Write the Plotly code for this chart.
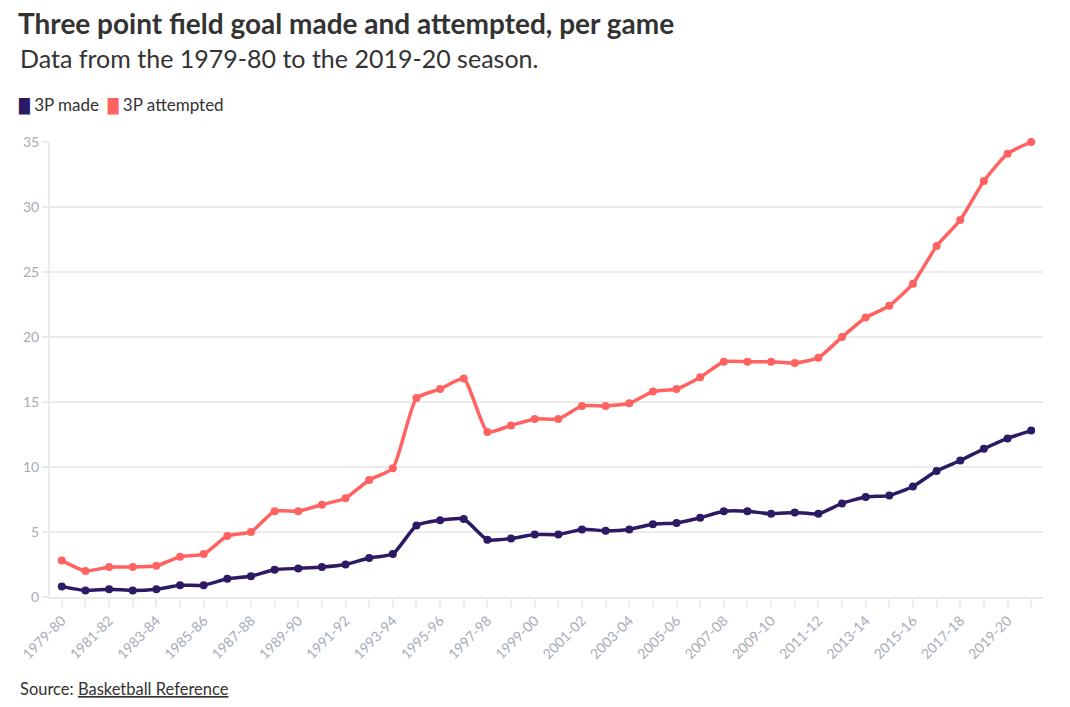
import plotly.graph_objects as go

# Seasons 1979-80 .. 2020-21 (42 seasons)
seasons = [f"{y}-{str(y + 1)[-2:]}" for y in range(1979, 2021)]

# 3-point field goals made per game
made = [0.8, 0.5, 0.6, 0.5, 0.6, 0.9, 0.9, 1.4, 1.6, 2.1,
        2.2, 2.3, 2.5, 3.0, 3.3, 5.5, 5.9, 6.0, 4.4, 4.5,
        4.8, 4.8, 5.2, 5.1, 5.2, 5.6, 5.7, 6.1, 6.6, 6.6,
        6.4, 6.5, 6.4, 7.2, 7.7, 7.8, 8.5, 9.7, 10.5, 11.4,
        12.2, 12.8]

# 3-point field goals attempted per game
attempted = [2.8, 2.0, 2.3, 2.3, 2.4, 3.1, 3.3, 4.7, 5.0, 6.6,
             6.6, 7.1, 7.6, 9.0, 9.9, 15.3, 16.0, 16.8, 12.7, 13.2,
             13.7, 13.7, 14.7, 14.7, 14.9, 15.8, 16.0, 16.9, 18.1, 18.1,
             18.1, 18.0, 18.4, 20.0, 21.5, 22.4, 24.1, 27.0, 29.0, 32.0,
             34.1, 35.0]

series_names = ["3P made", "3P attempted"]
y_ticks = [0, 5, 10, 15, 20, 25, 30, 35]

PURPLE = "#2c1a64"
RED = "#ff6361"
GRID = "#ebebeb"
TICK_TXT = "#a6acb8"
TXT = "#333333"
FONT = "Lato"

fig = go.Figure()

for name, vals, col in zip(series_names, [made, attempted], [PURPLE, RED]):
    fig.add_trace(go.Scatter(
        x=seasons, y=vals, name=name, mode="lines+markers",
        line=dict(color=col, width=3.5, shape="spline", smoothing=0.5),
        marker=dict(color=col, size=8),
        cliponaxis=False, showlegend=False,
    ))

# legend drawn as a text line with coloured swatches
legend_txt = "&nbsp;&nbsp;".join(
    f"<span style='color:{c}; font-family:DejaVu Sans; font-size:14px'>█</span> {n}"
    for n, c in zip(series_names, [PURPLE, RED])
)

fig.update_layout(
    width=1070, height=707,
    paper_bgcolor="white", plot_bgcolor="white",
    margin=dict(l=50, r=27, t=142, b=110),
    font=dict(family=FONT, color=TXT),
    showlegend=False,
    title=dict(
        text="<b>Three point field goal made and attempted, per game</b>",
        x=18 / 1070, xref="container", xanchor="left",
        y=1 - 24 / 707, yref="container", yanchor="middle",
        font=dict(size=28, color=TXT, family=FONT),
    ),
    annotations=[
        dict(text="Data from the 1979-80 to the 2019-20 season.",
             xref="paper", yref="paper", x=-32 / 993, y=(597 - 58) / 455,
             xanchor="left", yanchor="middle", showarrow=False,
             font=dict(size=25, color=TXT, family=FONT)),
        dict(text=legend_txt,
             xref="paper", yref="paper", x=-34 / 993, y=(597 - 104) / 455,
             xanchor="left", yanchor="middle", showarrow=False,
             font=dict(size=17, color=TXT, family=FONT)),
        dict(text="Source: <u>Basketball Reference</u>",
             xref="paper", yref="paper", x=-32 / 993, y=(597 - 689) / 455,
             xanchor="left", yanchor="middle", showarrow=False,
             font=dict(size=16.5, color=TXT, family=FONT)),
    ],
)

fig.update_xaxes(
    type="category",
    tickvals=seasons,
    ticktext=[s if i % 2 == 0 else "" for i, s in enumerate(seasons)],
    tickangle=-45,
    ticks="outside", ticklen=8, tickwidth=2, tickcolor=GRID,
    showline=True, linecolor=GRID, linewidth=2,
    showgrid=False,
    tickfont=dict(size=14, color=TICK_TXT),
    range=[-0.5, len(seasons) - 0.5],
)

fig.update_yaxes(
    range=[0, 35],
    tickvals=y_ticks,
    ticks="outside", ticklen=6, tickwidth=2, tickcolor=GRID,
    showline=True, linecolor=GRID, linewidth=2,
    showgrid=True, gridcolor=GRID, gridwidth=2,
    zeroline=False,
    tickfont=dict(size=14, color=TICK_TXT),
)

# drop the default page margin so the figure sits at the window's top-left
fig.write_html("out.html", config={"displayModeBar": False},
               post_script="document.body.style.margin='0';")
